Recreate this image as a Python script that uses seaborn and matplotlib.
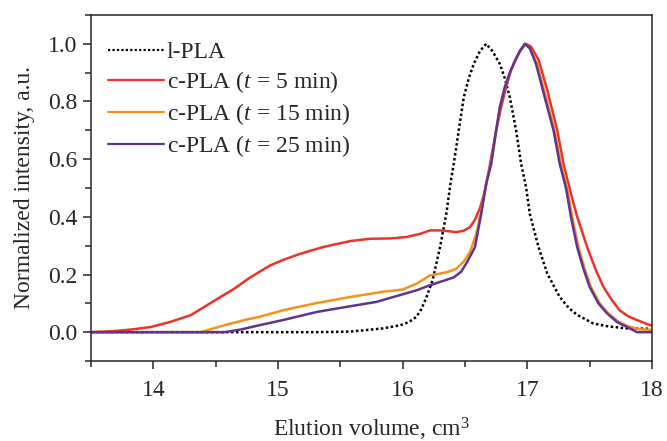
import numpy as np
import pandas as pd
import seaborn as sns
import matplotlib.pyplot as plt
from matplotlib.ticker import MultipleLocator

# l-PLA (dotted)
l_x = [13.5, 14.6, 15.3, 15.58, 15.84, 15.98, 16.05, 16.11, 16.15, 16.19, 16.24, 16.30, 16.35,
       16.385, 16.41, 16.45, 16.49, 16.53, 16.57, 16.62, 16.67, 16.72, 16.78, 16.82, 16.86,
       16.91, 16.95, 16.99, 17.02, 17.09, 17.16, 17.26, 17.33, 17.40, 17.53, 17.65, 17.8, 17.98]
l_y = [0.0, 0.0, 0.0, 0.002, 0.013, 0.024, 0.035, 0.053, 0.08, 0.12, 0.18, 0.295, 0.41,
       0.52, 0.584, 0.70, 0.814, 0.88, 0.93, 0.975, 1.0, 0.975, 0.93, 0.88, 0.814,
       0.70, 0.584, 0.503, 0.41, 0.295, 0.203, 0.122, 0.085, 0.06, 0.03, 0.02, 0.013, 0.012]

# c-PLA, t = 5 min
r_x = [13.5, 13.66, 13.82, 13.98, 14.14, 14.30, 14.41, 14.52, 14.65, 14.76, 14.85, 14.94, 15.05,
       15.18, 15.36, 15.58, 15.74, 15.90, 16.03, 16.14, 16.22, 16.30, 16.37, 16.43, 16.49, 16.54,
       16.58, 16.62, 16.66, 16.70, 16.75, 16.79, 16.83, 16.87, 16.91, 16.95, 16.99, 17.03, 17.09,
       17.16, 17.24, 17.29, 17.35, 17.40, 17.48, 17.55, 17.61, 17.68, 17.74, 17.81, 17.88, 17.98,
       18.0]
r_y = [0.0, 0.003, 0.009, 0.018, 0.036, 0.059, 0.088, 0.117, 0.151, 0.185, 0.209, 0.232, 0.252,
       0.272, 0.295, 0.316, 0.324, 0.325, 0.33, 0.341, 0.353, 0.353, 0.35, 0.347, 0.352, 0.364,
       0.39, 0.43, 0.49, 0.58, 0.70, 0.78, 0.85, 0.91, 0.95, 0.98, 1.0, 0.99, 0.945,
       0.84, 0.70, 0.584, 0.48, 0.40, 0.295, 0.215, 0.157, 0.11, 0.076, 0.055, 0.042, 0.025,
       0.024]

# c-PLA, t = 15 min
o_x = [13.5, 14.38, 14.57, 14.73, 14.85, 15.04, 15.31, 15.58, 15.84, 16.0, 16.11, 16.22, 16.30,
       16.37, 16.43, 16.49, 16.54, 16.59, 16.63, 16.67, 16.71, 16.75, 16.78, 16.82, 16.86, 16.89,
       16.94, 16.98, 17.02, 17.08, 17.15, 17.22, 17.27, 17.32, 17.36, 17.41, 17.46, 17.51, 17.58,
       17.65, 17.73, 17.81, 17.9, 18.0]
o_y = [0.0, 0.0, 0.024, 0.042, 0.053, 0.076, 0.101, 0.122, 0.14, 0.148, 0.168, 0.197, 0.203,
       0.21, 0.22, 0.245, 0.278, 0.34, 0.42, 0.515, 0.584, 0.70, 0.78, 0.85, 0.90, 0.93,
       0.975, 1.0, 0.985, 0.93, 0.814, 0.70, 0.584, 0.50, 0.40, 0.295, 0.22, 0.157, 0.10,
       0.065, 0.037, 0.02, 0.01, 0.008]

# c-PLA, t = 25 min
p_x = [13.5, 14.57, 14.70, 14.85, 15.04, 15.31, 15.58, 15.79, 15.95, 16.11, 16.22, 16.27, 16.34,
       16.41, 16.47, 16.51, 16.55, 16.58, 16.63, 16.67, 16.71, 16.75, 16.78, 16.82, 16.86, 16.89,
       16.94, 16.98, 17.02, 17.07, 17.14, 17.21, 17.26, 17.31, 17.35, 17.40, 17.45, 17.50, 17.57,
       17.64, 17.72, 17.80, 17.88, 18.0]
p_y = [0.0, 0.0, 0.009, 0.024, 0.042, 0.07, 0.09, 0.105, 0.125, 0.145, 0.163, 0.17, 0.18,
       0.19, 0.21, 0.238, 0.27, 0.295, 0.41, 0.515, 0.584, 0.70, 0.78, 0.85, 0.90, 0.93,
       0.975, 1.0, 0.985, 0.93, 0.814, 0.70, 0.584, 0.50, 0.40, 0.295, 0.22, 0.157, 0.10,
       0.065, 0.035, 0.018, 0.0, 0.0]

labels = ["l-PLA", "c-PLA ($t$ = 5 min)", "c-PLA ($t$ = 15 min)", "c-PLA ($t$ = 25 min)"]
colors = ["black", "#ee3129", "#f7901e", "#5e3493"]

df = pd.concat([
    pd.DataFrame({"vol": l_x, "inten": l_y, "sample": labels[0]}),
    pd.DataFrame({"vol": r_x, "inten": r_y, "sample": labels[1]}),
    pd.DataFrame({"vol": o_x, "inten": o_y, "sample": labels[2]}),
    pd.DataFrame({"vol": p_x, "inten": p_y, "sample": labels[3]}),
])

sns.set_style("ticks")
plt.rcParams["font.family"] = ["Liberation Serif", "DejaVu Serif"]
plt.rcParams["mathtext.fontset"] = "custom"
plt.rcParams["mathtext.rm"] = "Liberation Serif"
plt.rcParams["mathtext.it"] = "Liberation Serif:italic"

fig = plt.figure(figsize=(6.67, 4.41), dpi=100)
ax = fig.add_axes([0.1364, 0.1814, 0.8411, 0.7846])

sns.lineplot(data=df, x="vol", y="inten", hue="sample", style="sample",
             palette=dict(zip(labels, colors)),
             dashes={labels[0]: (1, 1), labels[1]: "", labels[2]: "", labels[3]: ""},
             sort=False, estimator=None, linewidth=1.8, ax=ax)

ax.set_xlim(13.5, 18)
ax.set_ylim(-0.1, 1.1)
ax.xaxis.set_major_locator(MultipleLocator(1))
ax.xaxis.set_minor_locator(MultipleLocator(0.5))
ax.yaxis.set_minor_locator(MultipleLocator(0.1))
ax.set_yticks(np.arange(0, 1.01, 0.2))
ax.set_yticklabels([f"{v:.1f}" for v in np.arange(0, 1.01, 0.2)])
ax.tick_params(which="major", direction="out", length=6, width=1.1, labelsize=17)
ax.tick_params(axis="x", which="major", pad=8)
ax.tick_params(which="minor", direction="out", length=4, width=1.1)
for s in ax.spines.values():
    s.set_linewidth(1.1)

ax.set_xlabel("Elution volume, cm$^3$", fontsize=17, labelpad=10)
ax.set_ylabel("Normalized intensity, a.u.", fontsize=17, labelpad=10)

leg = ax.legend(loc="upper left", frameon=False, fontsize=17, handlelength=2.4,
                handletextpad=0.1, labelspacing=0.25, borderaxespad=0.3,
                bbox_to_anchor=(0.0, 0.97))
for h in leg.get_lines():
    h.set_linewidth(1.6)

fig.savefig("out.png", dpi=100)
